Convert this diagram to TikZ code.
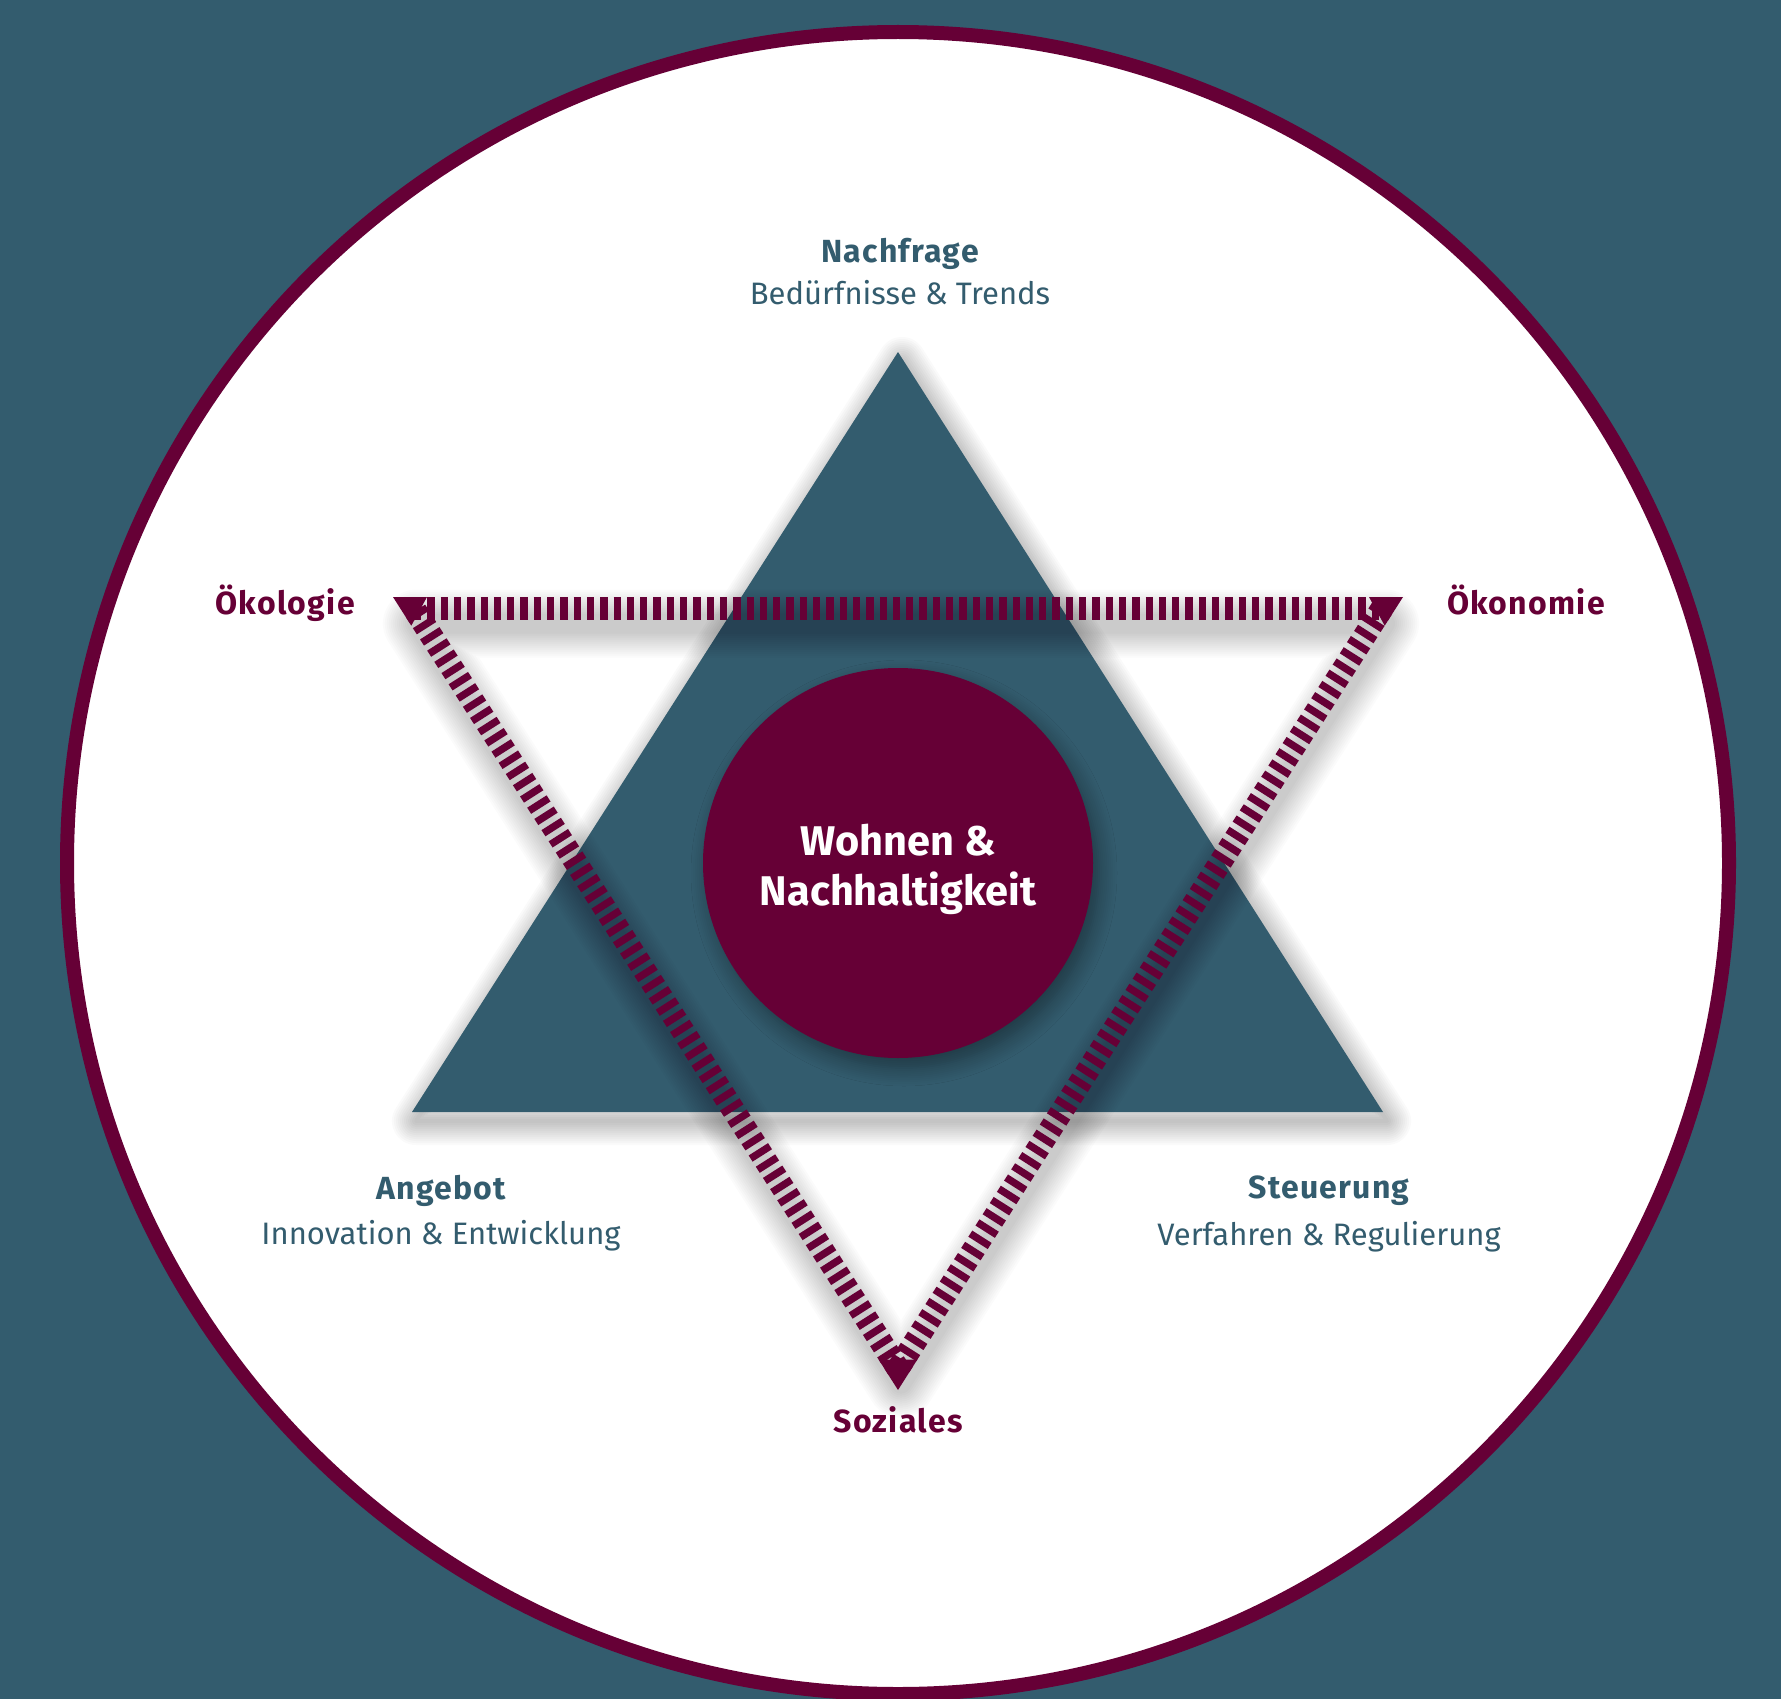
\documentclass[tikz,border=0pt]{standalone}
\usepackage{fontspec}
\setmainfont{Fira Sans}
\usetikzlibrary{shadows.blur}
\definecolor{bgteal}{HTML}{335C6E}
\definecolor{wine}{HTML}{660036}
\begin{document}
\begin{tikzpicture}[x=1pt,y=-1pt,
  titletext/.style={font=\fontsize{32}{36}\selectfont\bfseries\addfontfeatures{LetterSpace=4}, text=bgteal, anchor=base, inner sep=0},
  subtext/.style={font=\fontsize{31}{36}\selectfont, text=bgteal, anchor=base, inner sep=0},
  pillartext/.style={font=\fontsize{32}{36}\selectfont\bfseries\addfontfeatures{LetterSpace=4}, text=wine, anchor=base, inner sep=0},
  coretext/.style={font=\fontsize{41.5}{50}\selectfont\bfseries, text=white, anchor=base, inner sep=0},
  dashedge/.style={draw=wine, line width=23pt, dash pattern=on 7.3pt off 6pt},
  dashshadow/.style={draw=black, opacity=0.017, line join=round},
  trishadow/.style={draw=black, opacity=0.02, line join=round},
]
\useasboundingbox (0,0) rectangle (1781,1699);
\clip (0,0) rectangle (1781,1699);
\fill[bgteal] (0,0) rectangle (1781,1699);
% outer circle
\node[circle, fill=white, draw=wine, line width=14pt, minimum size=1662pt, inner sep=0] (outer) at (898,863) {};
% teal triangle with soft halo
\coordinate (tA) at (898,352);
\coordinate (tL) at (412,1112);
\coordinate (tR) at (1383,1112);
\foreach \w in {4,8,...,48}
  \draw[trishadow, line width=\w pt] ([shift={(4,9)}]tA) -- ([shift={(4,9)}]tR) -- ([shift={(4,9)}]tL) -- cycle;
\fill[bgteal] (tA) -- (tR) -- (tL) -- cycle;
% dashed triangle (centre line of the stroke)
\coordinate (dA) at (414,608.5);
\coordinate (dB) at (1382,608.5);
\coordinate (dC) at (898,1368.6);
\foreach \w in {20,24,...,68}
  \draw[dashshadow, line width=\w pt] ([shift={(3,15)}]dA) -- ([shift={(3,15)}]dB) -- ([shift={(3,15)}]dC) -- cycle;
\draw[dashedge] (dA) -- (dB);
\draw[dashedge] (dB) -- (dC);
\draw[dashedge] (dC) -- (dA);
% vertex caps
\coordinate (oA) at (393,597);
\coordinate (oB) at (1403,597);
\coordinate (oC) at (898,1390);
\fill[wine] (oA) -- (427,597) -- (411.3,625.7) -- cycle;
\fill[wine] (oB) -- (1369,597) -- (1384.7,625.7) -- cycle;
\fill[wine] (oC) -- (878.7,1359.6) -- (917.3,1359.6) -- cycle;
% centre circle
\node[circle, fill=wine, minimum size=390pt, inner sep=0,
  blur shadow={shadow xshift=6pt, shadow yshift=-10pt, shadow blur radius=18pt, shadow blur steps=10, shadow opacity=40}] (core) at (898,863) {};
\node[coretext] (coreA) at (898,855) {Wohnen \&};
\node[coretext] (coreB) at (898,905) {Nachhaltigkeit};
% labels
\node[titletext] (nachfrage) at (900,262) {Nachfrage};
\node[subtext] (nachfrageSub) at (900,304) {Bedürfnisse \& Trends};
\node[titletext] (angebot) at (441,1199) {Angebot};
\node[subtext] (angebotSub) at (441,1244) {Innovation \& Entwicklung};
\node[titletext] (steuerung) at (1329,1198) {Steuerung};
\node[subtext] (steuerungSub) at (1329,1245) {Verfahren \& Regulierung};
\node[pillartext] (oekologie) at (285,614) {Ökologie};
\node[pillartext] (oekonomie) at (1526,614) {Ökonomie};
\node[pillartext] (soziales) at (898,1432) {Soziales};
\end{tikzpicture}
\end{document}
